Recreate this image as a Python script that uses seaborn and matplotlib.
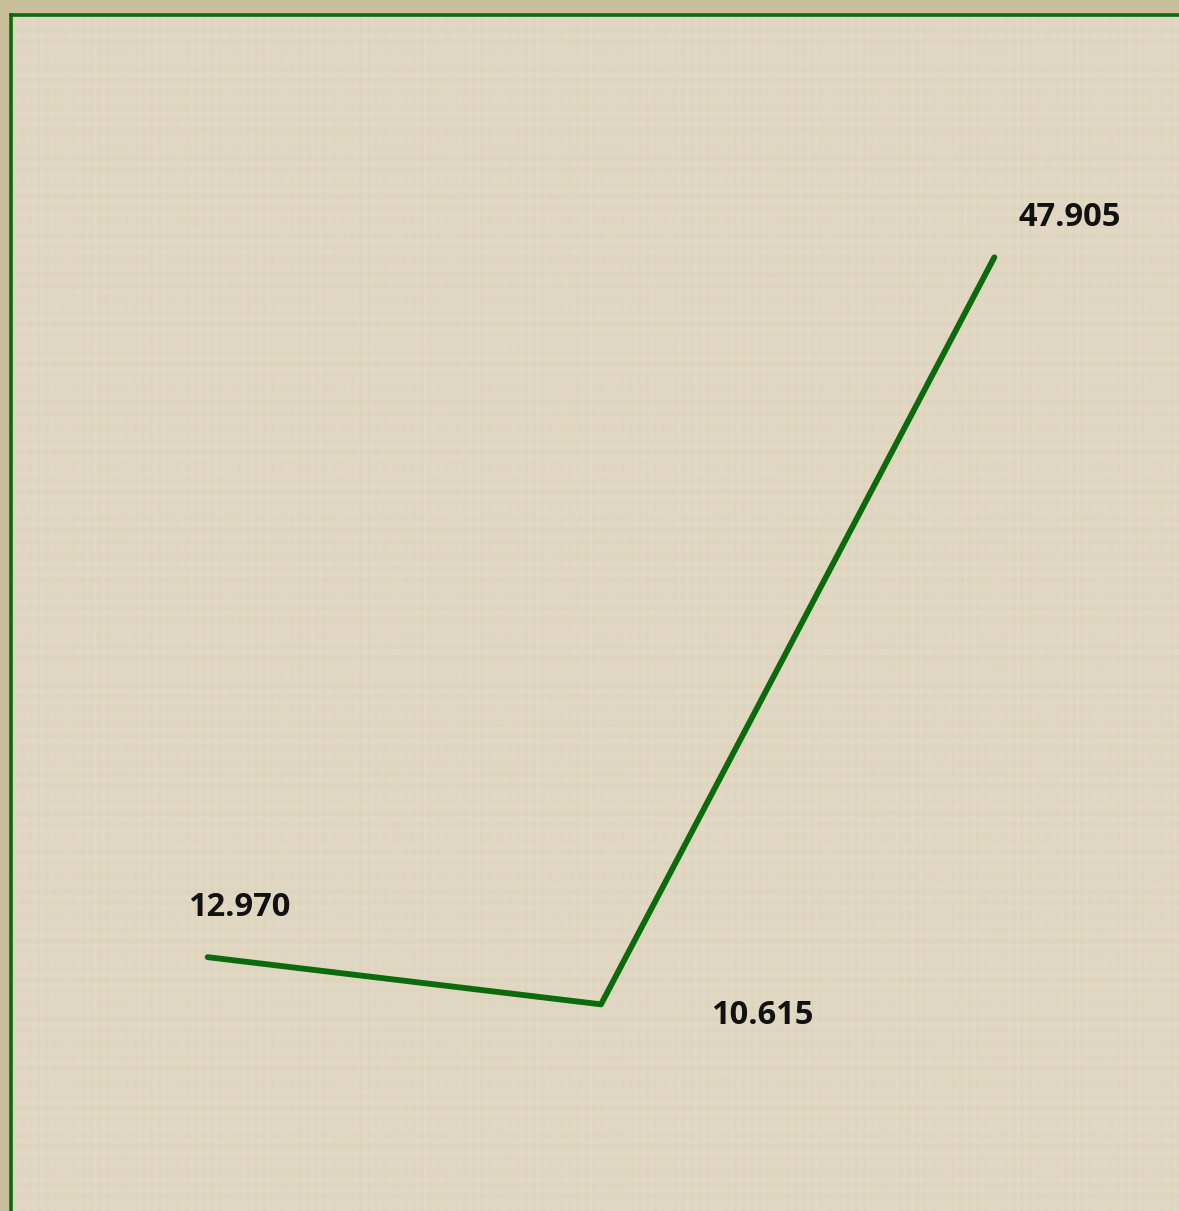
import numpy as np
import pandas as pd
import matplotlib
matplotlib.use("Agg")
import matplotlib.pyplot as plt
import seaborn as sns

# Data
categories = ["A", "B", "C"]
values = [12.970, 10.615, 47.905]
labels = ["12.970", "10.615", "47.905"]
label_offsets_px = [(32, 50), (161, -11), (75, 40)]

sns.set_theme(style="white")
plt.rcParams["font.family"] = ["Open Sans", "DejaVu Sans"]

W, H = 1179, 1211
fig = plt.figure(figsize=(W / 100, H / 100), dpi=100)
fig.patch.set_facecolor("#c8bf9b")

# axes: left edge at px 11, top edge at px 15, extends past right/bottom
ax = fig.add_axes([11 / W, (H - 1217) / H, 1180 / W, 1202 / H])
ax.set_facecolor("#e3d9c3")

# subtle woven texture for background (deterministic)
ny, nx = 400, 400
yy = np.arange(ny)
xx = np.arange(nx)
rows = 0.5 + 0.5 * np.sin(yy * 1.7) * np.sin(yy * 0.23)
cols = 0.5 + 0.5 * np.sin(xx * 2.3) * np.sin(xx * 0.17)
tex = 0.5 * rows[:, None] + 0.5 * cols[None, :]
base = np.array([0.890, 0.851, 0.765])
dark = np.array([0.78, 0.74, 0.64])
img = base[None, None, :] * (1 - 0.4 * tex[..., None]) + dark[None, None, :] * 0.4 * tex[..., None]
light = np.array([0.93, 0.90, 0.83])
img = img * 0.8 + light * 0.2
ax.imshow(img, extent=(-0.5, 2.5, 0, 60), aspect="auto", zorder=0, interpolation="bilinear")

df = pd.DataFrame({"cat": categories, "val": values, "x": [0, 1, 2]})
sns.lineplot(data=df, x="x", y="val", ax=ax, color="#0b6a0b", linewidth=4.2,
             zorder=3, solid_capstyle="round")

for i, (v, lab, off) in enumerate(zip(values, labels, label_offsets_px)):
    ax.annotate(lab, xy=(i, v), xytext=off, textcoords="offset pixels",
                ha="center", va="center", fontsize=23.5, fontweight="bold",
                color="#111111", zorder=4)

ax.set_xlim(-0.5, 2.5)
ax.set_ylim(0, 60)
ax.set_xticks([])
ax.set_yticks([])
ax.set_xlabel("")
ax.set_ylabel("")
for s in ["left", "top"]:
    ax.spines[s].set_color("#0b6a0b")
    ax.spines[s].set_linewidth(2.6)
for s in ["right", "bottom"]:
    ax.spines[s].set_visible(False)

fig.savefig("out.png", dpi=100, facecolor=fig.get_facecolor())
